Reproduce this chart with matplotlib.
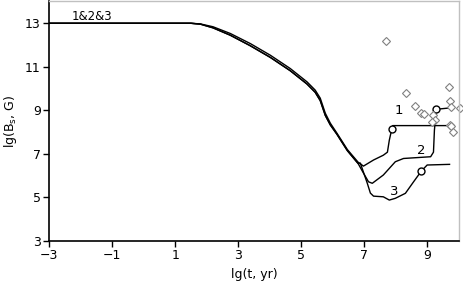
import matplotlib
matplotlib.use("Agg")
import matplotlib.pyplot as plt

# common start (curves 2 and 3), curve 1 runs a little higher on the decline
x_dec = [-3, 1.5, 1.8, 2.2, 2.75, 3.38, 4.02, 4.65, 5.18, 5.44, 5.60, 5.76, 5.92, 6.13, 6.46, 6.8]
y_dec1 = [13, 13, 12.97, 12.84, 12.53, 12.07, 11.53, 10.92, 10.31, 9.93, 9.56, 8.87, 8.41, 7.95, 7.2, 6.62]
y_dec23 = [13, 13, 12.96, 12.79, 12.45, 11.97, 11.43, 10.82, 10.21, 9.83, 9.45, 8.77, 8.33, 7.9, 7.15, 6.56]

x1_tail = [6.97, 7.29, 7.60, 7.73, 7.79, 7.87, 7.90, 9.73]
y1_tail = [6.44, 6.72, 6.94, 7.08, 7.63, 8.15, 8.30, 8.30]

x2_tail = [6.97, 7.13, 7.25, 7.60, 7.98, 8.24, 9.10, 9.19, 9.22, 9.28, 9.63]
y2_tail = [6.12, 5.72, 5.65, 6.03, 6.64, 6.79, 6.87, 7.08, 8.09, 9.05, 9.10]

x3_tail = [6.87, 7.09, 7.19, 7.29, 7.60, 7.79, 7.98, 8.30, 8.56, 8.81, 8.99, 9.70]
y3_tail = [6.58, 5.66, 5.20, 5.06, 5.03, 4.88, 4.96, 5.19, 5.72, 6.22, 6.49, 6.52]

circ_x = [7.87, 9.28, 8.81]
circ_y = [8.15, 9.05, 6.22]

obs_x = [7.70, 8.33, 8.62, 8.80, 8.88, 9.17, 9.25, 9.15, 9.68, 9.70, 9.73, 10.02, 9.71, 9.73, 9.80]
obs_y = [12.19, 9.80, 9.22, 8.86, 8.81, 8.78, 8.58, 8.47, 10.08, 9.42, 9.17, 9.09, 8.35, 8.28, 7.99]

plt.rcParams['font.family'] = ['DejaVu Sans']
plt.rcParams['font.size'] = 9

fig = plt.figure(figsize=(4.63, 2.88), dpi=100)
ax = fig.add_axes([0.1058, 0.1632, 0.8856, 0.8316])

lw = 1.0
ax.plot(x_dec + x1_tail, y_dec1 + y1_tail, color='black', lw=lw)
ax.plot(x_dec + x2_tail, y_dec23 + y2_tail, color='black', lw=lw)
ax.plot(x_dec + x3_tail, y_dec23 + y3_tail, color='black', lw=lw)
ax.plot(circ_x, circ_y, 'o', ms=5, mfc='white', mec='black', mew=1.0, ls='none')
ax.plot(obs_x, obs_y, 'D', ms=4, mfc='white', mec='#808080', mew=0.8, ls='none', clip_on=False)

ax.text(8.08, 9.0, '1', ha='center', va='center', fontsize=9.5)
ax.text(8.81, 7.17, '2', ha='center', va='center', fontsize=9.5)
ax.text(7.95, 5.29, '3', ha='center', va='center', fontsize=9.5)
ax.text(-1.63, 13.03, '1&2&3', ha='center', va='bottom', fontsize=8.5)

ax.set_xlim(-3, 10)
ax.set_ylim(3, 14)
ax.set_xticks(range(-3, 10, 2))
ax.set_yticks(range(3, 14, 2))
ax.tick_params(direction='out', length=4, width=1, pad=2)
ax.set_xlabel('lg(t, yr)', labelpad=4)
ax.set_ylabel('lg(B$_\\mathregular{s}$, G)', labelpad=4)

for s in ['left', 'bottom']:
    ax.spines[s].set_color('black')
    ax.spines[s].set_linewidth(1.2)
for s in ['top', 'right']:
    ax.spines[s].set_color('#c0c0c0')
    ax.spines[s].set_linewidth(1.0)

fig.savefig('out.png', dpi=100)
